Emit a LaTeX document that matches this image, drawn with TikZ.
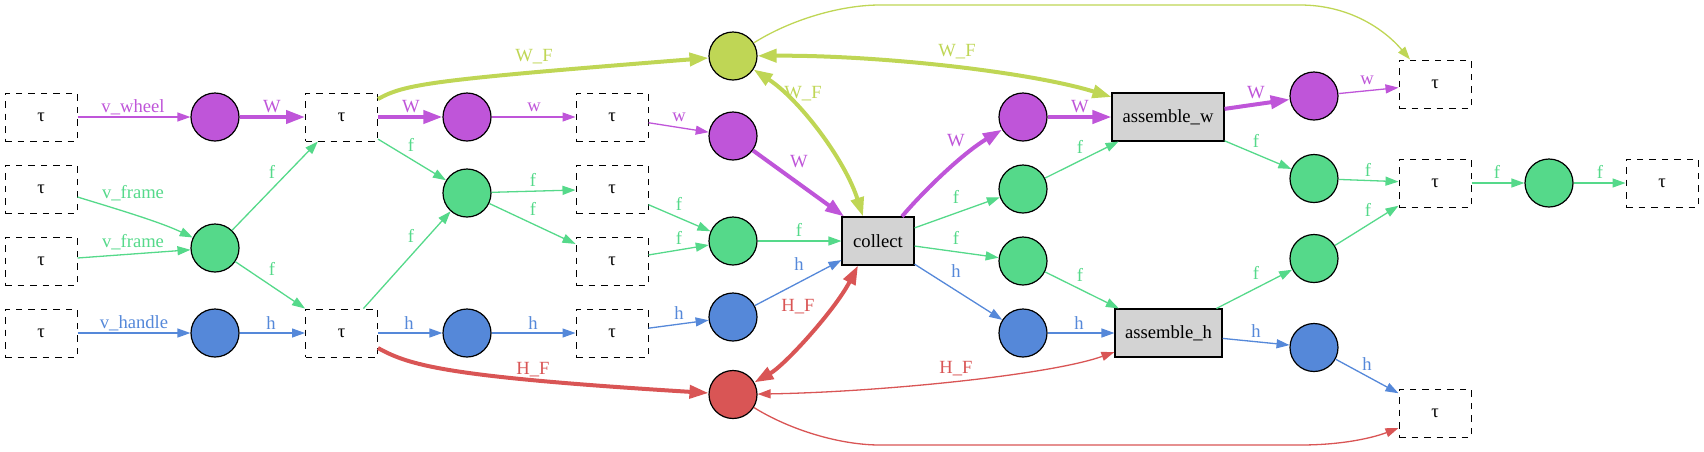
\documentclass[tikz,border=0pt]{standalone}
\usepackage{fontspec}
\setmainfont{Liberation Serif}
\usetikzlibrary{arrows.meta}
\definecolor{cP}{HTML}{BF55D9}
\definecolor{cG}{HTML}{55D98A}
\definecolor{cB}{HTML}{5588D9}
\definecolor{cR}{HTML}{D95555}
\definecolor{cY}{HTML}{BFD655}
\definecolor{cGr}{HTML}{D3D3D3}
\begin{document}
\begin{tikzpicture}[x=1pt,y=-1pt,
  font=\fontsize{18.6}{20}\selectfont,
  tau/.style={draw=black, dash pattern=on 6.5pt off 6pt, line width=1pt, minimum width=72pt, minimum height=48pt, inner sep=0pt},
  dot/.style={circle, draw=black, line width=1.2pt, minimum size=48pt, inner sep=0pt, fill=#1},
  op/.style={draw=black, fill=cGr, line width=1.1pt, minimum height=48pt, inner sep=0pt, minimum width=#1},
  ea/.style={draw=#1, line width=1.3pt, -{Triangle[length=13pt,width=9pt]}},
  eb/.style={draw=#1, line width=4pt, -{Triangle[length=19pt,width=13pt]}},
  ebb/.style={draw=#1, line width=4pt, {Triangle[length=19pt,width=13pt]}-{Triangle[length=19pt,width=13pt]}},
  eab/.style={draw=#1, line width=1.3pt, {Triangle[length=13pt,width=9pt]}-{Triangle[length=13pt,width=9pt]}},
  lb/.style={text=#1, inner sep=0pt, anchor=center}
]
\useasboundingbox (0,0) rectangle (1704,451);
% nodes
\node[tau] (t1) at (41,117) {τ};
\node[tau] (t2) at (41,189) {τ};
\node[tau] (t3) at (41,261) {τ};
\node[tau] (t4) at (41,333) {τ};
\node[dot=cP] (p2) at (215,117) {};
\node[dot=cG] (g2) at (215,248) {};
\node[dot=cB] (b2) at (215,333) {};
\node[tau] (ta) at (341.5,117) {τ};
\node[tau] (tb) at (341.5,333) {τ};
\node[dot=cP] (p4) at (467,117) {};
\node[dot=cG] (g4) at (467,193) {};
\node[dot=cB] (b4) at (467,333) {};
\node[tau] (u1) at (612,117) {τ};
\node[tau] (u2) at (612,189) {τ};
\node[tau] (u3) at (612,261) {τ};
\node[tau] (u4) at (612,333) {τ};
\node[dot=cY] (yc) at (733,56) {};
\node[dot=cP] (p6) at (733,136) {};
\node[dot=cG] (g6) at (733,241) {};
\node[dot=cB] (b6) at (733,317) {};
\node[dot=cR] (rc) at (733,394.5) {};
\node[op=72pt] (col) at (878,241) {collect};
\node[dot=cP] (p8) at (1023,117) {};
\node[dot=cG] (g8a) at (1023,189) {};
\node[dot=cG] (g8b) at (1023,261) {};
\node[dot=cB] (b8) at (1023,333) {};
\node[op=112pt] (aw) at (1168,117) {assemble\_w};
\node[op=107pt] (ah) at (1168.5,333) {assemble\_h};
\node[dot=cP] (p10) at (1314,96) {};
\node[dot=cG] (g10a) at (1314,178.5) {};
\node[dot=cG] (g10b) at (1314,258.5) {};
\node[dot=cB] (b10) at (1314,347.5) {};
\node[tau] (s1) at (1435,84) {τ};
\node[tau] (s2) at (1435,183) {τ};
\node[tau] (s3) at (1435,413) {τ};
\node[dot=cG] (g12) at (1549,183) {};
\node[tau] (s4) at (1662,183) {τ};
% column 1
\draw[ea=cP] (t1) -- (p2) node[lb=cP] at (133,107) {v\_wheel};
\draw[ea=cG] ([yshift=-8pt]t2.east) .. controls (120,210) and (160,222) .. (g2) node[lb=cG] at (133,193) {v\_frame};
\draw[ea=cG] ([yshift=3pt]t3.east) -- (g2) node[lb=cG] at (133,242) {v\_frame};
\draw[ea=cB] (t4) -- (b2) node[lb=cB] at (134,323) {v\_handle};
% column 2
\draw[eb=cP] (p2) -- (ta) node[lb=cP] at (272,107) {W};
\draw[ea=cG] (g2) -- (ta) node[lb=cG] at (272,172) {f};
\draw[ea=cG] (g2) -- (tb) node[lb=cG] at (272,269) {f};
\draw[ea=cB] (b2) -- (tb) node[lb=cB] at (271,323) {h};
% column 3
\draw[eb=cY] ([yshift=18pt]ta.east) .. controls (405,84) and (430,80) .. (yc) node[lb=cY] at (534,57) {W\_F};
\draw[eb=cP] (ta) -- (p4) node[lb=cP] at (411,107) {W};
\draw[ea=cG] (ta) -- (g4) node[lb=cG] at (411,145) {f};
\draw[ea=cG] (tb) -- (g4) node[lb=cG] at (411,236) {f};
\draw[ea=cB] (tb) -- (b4) node[lb=cB] at (409,323) {h};
\draw[eb=cR] ([yshift=-15pt]tb.east) .. controls (410,366) and (450,377) .. (rc) node[lb=cR] at (533,370) {H\_F};
% column 4
\draw[ea=cP] (p4) -- (u1) node[lb=cP] at (534,107) {w};
\draw[ea=cG] (g4) -- (u2) node[lb=cG] at (533,180) {f};
\draw[ea=cG] (g4) -- (u3) node[lb=cG] at (533,209) {f};
\draw[ea=cB] (b4) -- (u4) node[lb=cB] at (533,323) {h};
% column 5
\draw[ea=cP] (u1) -- (p6) node[lb=cP] at (679,117) {w};
\draw[ea=cG] (u2) -- (g6) node[lb=cG] at (679,204) {f};
\draw[ea=cG] (u3) -- (g6) node[lb=cG] at (679,238) {f};
\draw[ea=cB] (u4) -- (b6) node[lb=cB] at (679,313) {h};
% column 6
\draw[ebb=cY] (yc) .. controls (800,100) and (845,160) .. ([xshift=-15pt]col.north) node[lb=cY] at (803,94) {W\_F};
\draw[eb=cP] (p6) -- (col) node[lb=cP] at (799,162) {W};
\draw[ea=cG] (g6) -- (col) node[lb=cG] at (799,230) {f};
\draw[ea=cB] (b6) -- (col) node[lb=cB] at (799,264) {h};
\draw[ebb=cR] (rc) .. controls (785,365) and (835,310) .. ([xshift=-20pt]col.south) node[lb=cR] at (798,307) {H\_F};
\draw[ebb=cY] (yc) .. controls (880,55) and (1030,72) .. ([yshift=20pt]aw.west) node[lb=cY] at (957,52) {W\_F};
\draw[ea=cY] (yc) .. controls (790,20) and (840,5) .. (880,5) -- (1300,5) .. controls (1350,5) and (1385,30) .. ([xshift=-25pt]s1.north);
\draw[ea=cR] (rc) .. controls (790,430) and (840,445) .. (880,445) -- (1300,445) .. controls (1345,445) and (1375,437) .. ([yshift=-15pt]s3.west);
\draw[eab=cR] (rc) .. controls (880,392) and (1050,375) .. ([yshift=-19pt]ah.west) node[lb=cR] at (956,369) {H\_F};
% column 7
\draw[eb=cP] ([xshift=24pt]col.north) .. controls (920,195) and (960,155) .. (p8) node[lb=cP] at (956,141) {W};
\draw[ea=cG] (col) -- (g8a) node[lb=cG] at (956,197) {f};
\draw[ea=cG] (col) -- (g8b) node[lb=cG] at (956,238) {f};
\draw[ea=cB] (col) -- (b8) node[lb=cB] at (956,271) {h};
% column 8
\draw[eb=cP] (p8) -- (aw) node[lb=cP] at (1080,107) {W};
\draw[ea=cG] (g8a) -- (aw) node[lb=cG] at (1080,147) {f};
\draw[ea=cG] (g8b) -- (ah) node[lb=cG] at (1080,275) {f};
\draw[ea=cB] (b8) -- (ah) node[lb=cB] at (1079,323) {h};
% column 9
\draw[eb=cP] (aw) -- (p10) node[lb=cP] at (1256,93) {W};
\draw[ea=cG] (aw) -- (g10a) node[lb=cG] at (1256,141) {f};
\draw[ea=cG] (ah) -- (g10b) node[lb=cG] at (1256,273) {f};
\draw[ea=cB] (ah) -- (b10) node[lb=cB] at (1256,331) {h};
% column 10
\draw[ea=cP] (p10) -- (s1) node[lb=cP] at (1367,80) {w};
\draw[ea=cG] (g10a) -- (s2) node[lb=cG] at (1368,170) {f};
\draw[ea=cG] (g10b) -- (s2) node[lb=cG] at (1368,210) {f};
\draw[ea=cB] (b10) -- (s3) node[lb=cB] at (1367,364) {h};
\draw[ea=cG] (s2) -- (g12) node[lb=cG] at (1497,172) {f};
\draw[ea=cG] (g12) -- (s4) node[lb=cG] at (1600,172) {f};
\end{tikzpicture}
\end{document}
